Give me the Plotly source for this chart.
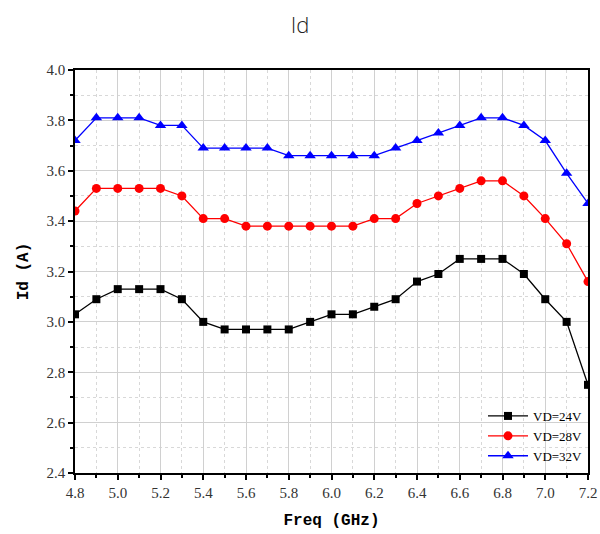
import plotly.graph_objects as go

freq = [4.8, 4.9, 5.0, 5.1, 5.2, 5.3, 5.4, 5.5, 5.6, 5.7, 5.8, 5.9, 6.0,
        6.1, 6.2, 6.3, 6.4, 6.5, 6.6, 6.7, 6.8, 6.9, 7.0, 7.1, 7.2]
id_24v = [3.03, 3.09, 3.13, 3.13, 3.13, 3.09, 3.00, 2.97, 2.97, 2.97, 2.97, 3.00, 3.03,
          3.03, 3.06, 3.09, 3.16, 3.19, 3.25, 3.25, 3.25, 3.19, 3.09, 3.00, 2.75]
id_28v = [3.44, 3.53, 3.53, 3.53, 3.53, 3.50, 3.41, 3.41, 3.38, 3.38, 3.38, 3.38, 3.38,
          3.38, 3.41, 3.41, 3.47, 3.50, 3.53, 3.56, 3.56, 3.50, 3.41, 3.31, 3.16]
id_32v = [3.72, 3.81, 3.81, 3.81, 3.78, 3.78, 3.69, 3.69, 3.69, 3.69, 3.66, 3.66, 3.66,
          3.66, 3.66, 3.69, 3.72, 3.75, 3.78, 3.81, 3.81, 3.78, 3.72, 3.59, 3.47]

series = [
    ("VD=24V", id_24v, "black", "square", 8),
    ("VD=28V", id_28v, "red", "circle", 9),
    ("VD=32V", id_32v, "blue", "triangle-up", 10),
]

fig = go.Figure()
for name, ys, color, sym, sz in series:
    fig.add_trace(go.Scatter(
        x=freq, y=ys, name=name, mode="lines+markers",
        line=dict(color=color, width=1.3),
        marker=dict(color=color, symbol=sym, size=sz),
    ))

serif = "Liberation Serif"
fig.update_layout(
    width=600, height=534,
    margin=dict(l=75, r=12, t=70, b=61, autoexpand=False),
    paper_bgcolor="white", plot_bgcolor="white",
    title=dict(text="Id", x=0.5, xanchor="center", y=0.953, yanchor="middle",
               font=dict(family="Open Sans", size=22, color="#222", weight=300)),
    legend=dict(x=1.0, y=0.005, xanchor="right", yanchor="bottom",
                font=dict(family=serif, size=13, color="black"),
                bgcolor="rgba(255,255,255,0)", tracegroupgap=0,
                itemwidth=40),
    showlegend=True,
)
axis_common = dict(
    showline=True, linecolor="black", linewidth=1.5, mirror=True,
    ticks="outside", ticklen=5, tickcolor="black", tickwidth=1.5,
    showgrid=True, gridcolor="#d0d0d0", gridwidth=1,
    zeroline=False, automargin=False,
    tickfont=dict(family=serif, size=15, color="#333"),
)
fig.update_xaxes(
    range=[4.8, 7.2], dtick=0.2, tick0=4.8, tickformat=".1f",
    title=dict(text="<b>Freq (GHz)</b>", font=dict(family="Liberation Mono", size=16, color="black"), standoff=14),
    minor=dict(dtick=0.1, showgrid=True, gridcolor="#d8d8d8", griddash="dot",
               ticks="outside", ticklen=3, tickcolor="black"),
    **axis_common,
)
fig.update_yaxes(
    range=[2.4, 4.0], dtick=0.2, tick0=2.4, tickformat=".1f",
    title=dict(text="<b>Id (A)</b>", font=dict(family="Liberation Mono", size=16, color="black"), standoff=14),
    minor=dict(dtick=0.1, showgrid=True, gridcolor="#d8d8d8", griddash="dot",
               ticks="outside", ticklen=3, tickcolor="black"),
    **axis_common,
)

fig.write_html("out.html")
